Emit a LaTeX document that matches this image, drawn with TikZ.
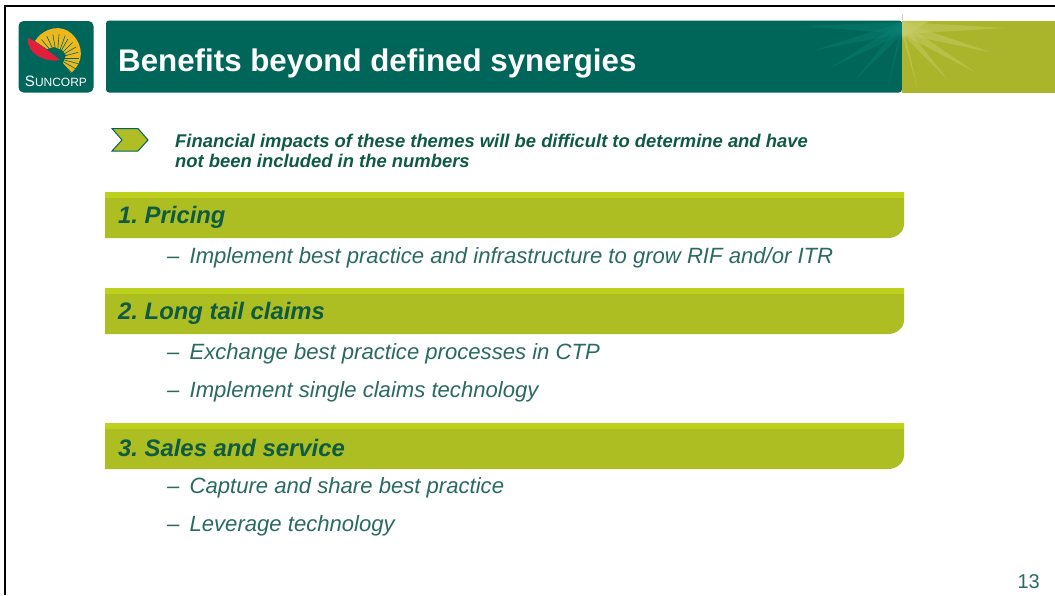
\documentclass[tikz,border=0pt]{standalone}
\usepackage{fontspec}
\setmainfont{Liberation Sans}
\frenchspacing
\definecolor{teal1}{HTML}{00665A}
\definecolor{teal2}{HTML}{0A8074}
\definecolor{olive1}{HTML}{ABB52C}
\definecolor{olive2}{HTML}{C6CC66}
\definecolor{bar1}{HTML}{ACBE22}
\definecolor{bar2}{HTML}{BDD01C}
\definecolor{txtg}{HTML}{2A6A62}
\definecolor{txth}{HTML}{0F5A44}
\definecolor{fanyellow}{HTML}{EDB81E}
\definecolor{leafred}{HTML}{E0203A}
\tikzset{
  bodytext/.style={anchor=west,inner sep=0pt,font=\fontsize{22.1}{25}\selectfont\itshape,text=txtg},
  headtext/.style={anchor=west,inner sep=0pt,font=\fontsize{23.85}{27}\selectfont\bfseries\itshape,text=txth},
  leadtext/.style={anchor=north west,inner sep=0pt,font=\fontsize{18.4}{20}\selectfont\bfseries\itshape,text=txth,align=left},
  titletext/.style={anchor=west,inner sep=0pt,font=\fontsize{31.3}{35}\selectfont\bfseries,text=white},
}
\newcommand{\headbar}[2]{%
  \fill[bar1] (105,#1) -- (904,#1) -- (904,#2-14) to[out=-90,in=0] (888,#2) -- (105,#2) -- cycle;
  \fill[bar2] (105,#1) rectangle (904,#1+6);
}
\newcommand{\dashitem}{–\hspace{4pt} }
\begin{document}
\begin{tikzpicture}[x=1pt,y=-1pt]
\useasboundingbox (0,0) rectangle (1055,595);
\fill[white] (0,0) rectangle (1055,595);
\draw[black,line width=2.4pt] (5,595) -- (5,6) -- (1055,6);
% logo
\fill[teal1,rounded corners=5pt] (18.5,21) rectangle (93.5,92.5);
\fill[fanyellow] (35,41) .. controls (44,27) and (62,24) .. (72,34) .. controls (84,46) and (84,62) .. (71,73) -- (63,63) -- (66,55) -- (62,50) -- (54,47) -- (47,49) -- cycle;
\foreach \a in {-25,-10,5,20,35,50,65,80,95,110}{\draw[teal1,line width=.6pt] (57,58) -- ++(\a:-24);}
\foreach \a in {-60,-45,-30,-15,0,15,30,45,60,75,90}{\draw[teal1,line width=.6pt] (57,58) -- ++(\a:22);}
\fill[leafred] (28,38) .. controls (38,42) and (50,52) .. (60,60) .. controls (46,63) and (26,54) .. (28,38) -- cycle;
\node[inner sep=0pt,text=white,font=\fontsize{15}{16}\selectfont] (logotext) at (56,81) {S\fontsize{12}{16}\selectfont UNCORP};
% header
\fill[teal1,rounded corners=3pt] (106,20.5) -- (106,92.5) -- (902,92.5) -- (902,20.5) -- cycle;
\fill[olive1] (902,20.5) rectangle (1055,92.5);
\draw[white!60!gray,line width=.8pt] (902,14) -- (902,20);
\begin{scope}
\clip (106,20.5) rectangle (902,92.5);
\foreach \ex/\ey in {805/26,815/50,830/68,855/80,887/90}{
  \fill[teal2,opacity=.45] (902,22) -- (\ex,\ey) -- (902,34) -- cycle;
}
\end{scope}
\begin{scope}
\clip (902,20.5) rectangle (1055,92.5);
\foreach \ex/\ey in {1005/28,990/52,975/72,948/80,918/90}{
  \fill[olive2,opacity=.5] (902,22) -- (\ex,\ey) -- (902,34) -- cycle;
}
\fill[olive2,opacity=.6] (902,20.5) -- (930,20.5) -- (902,38) -- cycle;
\end{scope}
\node[titletext] (title) at (118,63.5) {Benefits beyond defined synergies};
% chevron
\fill[olive1!70!bar2,draw=teal1,line width=1pt] (112,128.5) -- (138,128.5) -- (148,140) -- (138,151) -- (112,151) -- (122,140) -- cycle;
\node[leadtext] (lead) at (175,134) {Financial impacts of these themes will be difficult to determine and have\\not been included in the numbers};
% bars
\headbar{192}{238}
\headbar{288}{334}
\headbar{423}{469}
\node[headtext] (h1) at (118,217) {1. Pricing};
\node[headtext] (h2) at (118,313) {2. Long tail claims};
\node[headtext] (h3) at (118,448) {3. Sales and service};
\node[bodytext] (a1) at (167,257.5) {\dashitem Implement best practice and infrastructure to grow RIF and/or ITR};
\node[bodytext] (b1) at (167,353.5) {\dashitem Exchange best practice processes in CTP};
\node[bodytext] (b2) at (167,391.5) {\dashitem Implement single claims technology};
\node[bodytext] (c1) at (167,487.5) {\dashitem Capture and share best practice};
\node[bodytext] (c2) at (167,525.5) {\dashitem Leverage technology};
\node[anchor=east,inner sep=0pt,font=\fontsize{20}{22}\selectfont,text=txtg] (page) at (1040,581.5) {13};
\end{tikzpicture}
\end{document}
